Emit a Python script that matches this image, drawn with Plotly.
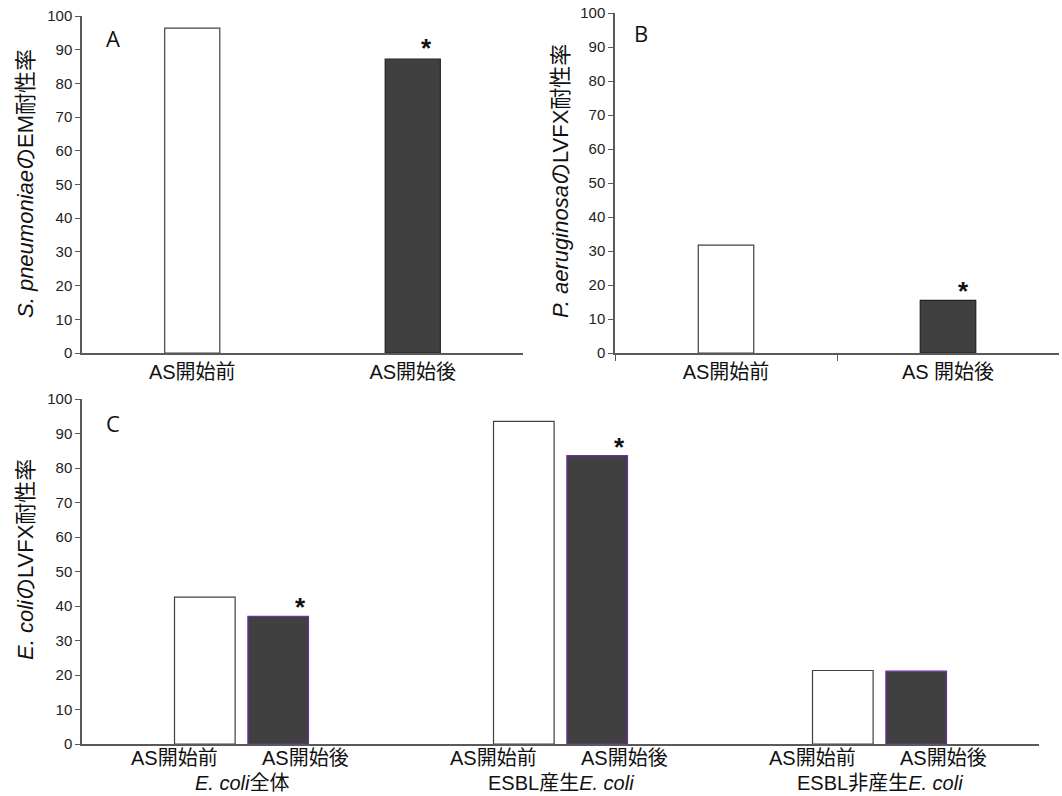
import plotly.graph_objects as go

# ---- data ----
cats_a = ["AS開始前", "AS開始後"]
vals_a = [96.4, 87.2]
sig_a = [False, True]

cats_b = ["AS開始前", "AS 開始後"]
vals_b = [31.7, 15.5]
sig_b = [False, True]

groups_c = ["<i>E. coli</i>全体", "ESBL産生<i>E. coli</i>", "ESBL非産生<i>E. coli</i>"]
sub_c = ["AS開始前", "AS開始後"]
before_c = [42.6, 93.5, 21.3]
after_c = [37.0, 83.6, 21.1]
sig_c = [True, True, False]

ytitle_a = "<i>S. pneumoniae</i>のEM耐性率"
ytitle_b = "<i>P. aeruginosa</i>のLVFX耐性率"
ytitle_c = "<i>E. coli</i>のLVFX耐性率"

W, H = 1062, 796
FONT = "Liberation Sans, Arial, Noto Sans CJK JP, sans-serif"
AXC = "#595959"
WHITE_LINE = "#404040"
DARK = "#404040"
CAT_SIZE = 20

def px(x):
    return x / W

def py(y):
    return 1 - y / H

fig = go.Figure()

# Panel A
fig.add_trace(go.Bar(x=cats_a, y=vals_a, width=0.25,
                     marker=dict(color=["white", DARK], line=dict(color=[WHITE_LINE, "#222222"], width=1.2)),
                     xaxis="x", yaxis="y", showlegend=False))
# Panel B
fig.add_trace(go.Bar(x=cats_b, y=vals_b, width=0.25,
                     marker=dict(color=["white", DARK], line=dict(color=[WHITE_LINE, "#222222"], width=1.2)),
                     xaxis="x2", yaxis="y2", showlegend=False))
# Panel C
fig.add_trace(go.Bar(x=groups_c, y=before_c, width=0.19, offset=-0.21,
                     marker=dict(color="white", line=dict(color=WHITE_LINE, width=1.2)),
                     xaxis="x3", yaxis="y3", showlegend=False))
fig.add_trace(go.Bar(x=groups_c, y=after_c, width=0.19, offset=0.02,
                     marker=dict(color=DARK, line=dict(color="#7030A0", width=1.2)),
                     xaxis="x3", yaxis="y3", showlegend=False))

yax = dict(range=[0, 100], tickvals=list(range(0, 101, 10)), showline=True, linecolor=AXC,
           linewidth=1.5, ticks="outside", ticklen=5, tickcolor=AXC, tickwidth=1.2,
           showgrid=False, zeroline=False, tickfont=dict(size=15, color="#222", family=FONT),
           fixedrange=True, automargin=False)
xax = dict(showline=True, linecolor=AXC, linewidth=1.5, showgrid=False, zeroline=False,
           tickfont=dict(size=CAT_SIZE, color="#111", family=FONT), type="category", automargin=False)

fig.update_layout(
    width=W, height=H, margin=dict(l=0, r=0, t=0, b=0, autoexpand=False),
    paper_bgcolor="white", plot_bgcolor="white", barmode="overlay",
    font=dict(family=FONT, color="#111"),
    xaxis=dict(**xax, domain=[px(82), px(523)], anchor="y", ticks="", range=[-0.5, 1.5]),
    yaxis=dict(**yax, domain=[py(353), py(16)], anchor="x"),
    xaxis2=dict(**xax, domain=[px(615), px(1059)], anchor="y2", ticks="outside", tickson="boundaries",
                ticklen=6, tickcolor=AXC, range=[-0.5, 1.5]),
    yaxis2=dict(**yax, domain=[py(353), py(13)], anchor="x2"),
    xaxis3=dict(**xax, domain=[px(82), px(1039)], anchor="y3", ticks="", showticklabels=False,
                range=[-0.5, 2.5]),
    yaxis3=dict(**yax, domain=[py(744), py(399)], anchor="x3"),
)

ann = []
# y-axis titles
for txt, x, y in [(ytitle_a, 25, 184), (ytitle_b, 561, 181), (ytitle_c, 25, 560)]:
    ann.append(dict(text=txt, x=px(x), y=py(y), xref="paper", yref="paper", showarrow=False,
                    textangle=-90, font=dict(size=22, family=FONT, color="#111"),
                    xanchor="center", yanchor="middle"))
# panel letters
for txt, x, y in [("A", 113, 38), ("B", 641, 33), ("C", 113, 423)]:
    ann.append(dict(text=txt, x=px(x), y=py(y), xref="paper", yref="paper", showarrow=False,
                    font=dict(size=22, family="Open Sans, Noto Sans, sans-serif", color="#111"),
                    xanchor="center", yanchor="middle"))
# significance stars
STAR = dict(size=26, family=FONT, color="#111")
for i, (v, s) in enumerate(zip(vals_a, sig_a)):
    if s:
        ann.append(dict(text="<b>*</b>", x=i, y=v, xref="x", yref="y", showarrow=False, xshift=14, yshift=-6,
                        yanchor="bottom", font=STAR))
for i, (v, s) in enumerate(zip(vals_b, sig_b)):
    if s:
        ann.append(dict(text="<b>*</b>", x=i, y=v, xref="x2", yref="y2", showarrow=False, xshift=15, yshift=-8,
                        yanchor="bottom", font=STAR))
for i, (v, s) in enumerate(zip(after_c, sig_c)):
    if s:
        ann.append(dict(text="<b>*</b>", x=i + 0.115, y=v, xref="x3", yref="y3", showarrow=False, xshift=22,
                        yshift=-8, yanchor="bottom", font=STAR))
# panel C category labels
for i, g in enumerate(groups_c):
    ann.append(dict(text=sub_c[0], x=i - 0.21, y=py(758), xref="x3", yref="paper", showarrow=False,
                    font=dict(size=CAT_SIZE, family=FONT, color="#111"), yanchor="middle"))
    ann.append(dict(text=sub_c[1], x=i + 0.2, y=py(758), xref="x3", yref="paper", showarrow=False,
                    font=dict(size=CAT_SIZE, family=FONT, color="#111"), yanchor="middle"))
    ann.append(dict(text=g, x=i, y=py(783), xref="x3", yref="paper", showarrow=False,
                    font=dict(size=CAT_SIZE, family=FONT, color="#111"), yanchor="middle"))

fig.update_layout(annotations=ann)
fig.write_html("out.html", config={"displayModeBar": False},
               post_script="document.body.style.margin='0';document.body.style.overflow='hidden';")
